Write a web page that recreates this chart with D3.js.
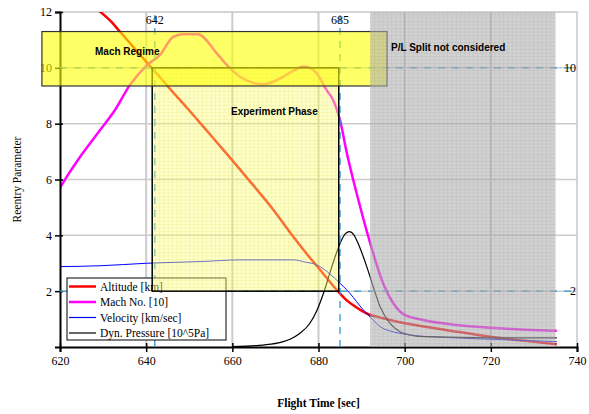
<!DOCTYPE html>
<html>
<head>
<meta charset="utf-8">
<script src="https://cdn.jsdelivr.net/npm/d3@7"></script>
<style>
	body { margin: 0; background: #fff; }
	svg text { font-family: "Liberation Serif", "Times New Roman", serif; }
	.box-label { font-family: "Liberation Sans", Arial, sans-serif !important; font-weight: bold; font-size: 10px; }
</style>
</head>
<body>
<div id="chart"></div>
<script>
// Series: [flight time (sec), value]
const altitude = [[629, 12.05], [631.6, 11.7], [633.9, 11.3], [637, 10.75], [640.1, 10.2], [643, 9.7], [645.5, 9.25],
	[649.4, 8.58], [652, 8.12], [654.8, 7.62], [657.9, 7.06], [660.2, 6.65], [664, 5.95], [669.5, 4.92], [673.4, 4.1],
	[677.3, 3.33], [680.4, 2.76], [684.6, 1.98], [686.5, 1.68], [688.5, 1.45], [691.2, 1.2],
	[695, 1.03], [700, 0.85], [706, 0.7], [712, 0.55], [719.8, 0.37], [728, 0.22], [735.3, 0.1]];
const mach = [[620, 5.7], [622, 6.2], [624.6, 6.8], [627, 7.3], [629.3, 7.77], [632.8, 8.5], [636.2, 9.38], [640.2, 10.1],
	[643.2, 10.46], [646.2, 11.1], [648.5, 11.2], [652, 11.2], [656.4, 10.52], [659, 10.05], [661.8, 9.68], [664.5, 9.48],
	[667.2, 9.41], [669.5, 9.5], [671.8, 9.68], [674, 9.88], [676.5, 10.04], [678, 10.0], [679.6, 9.8], [681.9, 9.2],
	[683.4, 8.85], [685, 8.13], [686.5, 7.0], [689.2, 5.3], [692, 3.72], [695, 2.28], [697.4, 1.56], [700, 1.15],
	[704.3, 0.97], [712, 0.79], [719.8, 0.69], [728, 0.62], [735.3, 0.58]];
const velocity = [[620, 2.88], [629.3, 2.91], [640.1, 3.0], [652.5, 3.06], [662, 3.12], [674.2, 3.12], [677, 3.04],
	[679.6, 2.94], [682, 2.7], [684.2, 2.4], [687.3, 1.92], [690.4, 1.33], [692.5, 1.0], [694.3, 0.73],
	[696.5, 0.58], [698.9, 0.49], [703, 0.4], [708.2, 0.35], [719.8, 0.28], [735.3, 0.19]];
const dynPressure = [[660, 0.01], [665.6, 0.05], [669, 0.1], [672, 0.2], [673.4, 0.28], [675.7, 0.49], [678, 0.85],
	[679.6, 1.3], [681.1, 1.9], [683.1, 2.88], [685, 3.71], [686.2, 4.05], [687.2, 4.13], [688.2, 4.02], [689.2, 3.71],
	[691.2, 2.88], [692.7, 2.16], [694.3, 1.44], [696.6, 0.85], [698.9, 0.55], [701.2, 0.43], [704.3, 0.37],
	[719.8, 0.33], [735.3, 0.33]];

const xTicks = [620, 640, 660, 680, 700, 720, 740];
const yTicks = [2, 4, 6, 8, 10, 12];
const xGrid = [640, 660, 680, 700, 720];
const yGrid = [2, 4, 6, 8, 10];

// Markers and regions (data units)
const timeMarkers = [642, 685];
const valueMarkers = [10, 2];
const machRegime = { t0: 615.8, t1: 695.9, v0: 9.35, v1: 11.3, label: "Mach Regime" };
const experimentPhase = { t0: 641.4, t1: 684.7, v0: 2, v1: 10, label: "Experiment Phase" };
const plSplit = { t0: 692, t1: 735, label: "P/L Split not considered" };

const series = [
	{ name: "Altitude [km]", data: altitude, color: "#ff0000", width: 2.5 },
	{ name: "Mach No. [10]", data: mach, color: "#ff00ff", width: 2.5 },
	{ name: "Velocity [km/sec]", data: velocity, color: "#0000ff", width: 1 },
	{ name: "Dyn. Pressure [10^5Pa]", data: dynPressure, color: "#000000", width: 1.2 }
];

const W = 589, H = 414;
const margin = { top: 12, right: 12, bottom: 67, left: 60 };

const svg = d3.select("#chart").append("svg")
	.attr("width", W)
	.attr("height", H);

const x = d3.scaleLinear().domain([620, 740]).range([margin.left, W - margin.right]);
const y = d3.scaleLinear().domain([0, 12]).range([H - margin.bottom, margin.top]);

// Patterns for the shaded regions
const defs = svg.append("defs");
const grayPat = defs.append("pattern").attr("id", "grayGrid")
	.attr("patternUnits", "userSpaceOnUse").attr("width", 4.3).attr("height", 3.5);
grayPat.append("rect").attr("width", 4.3).attr("height", 3.5).attr("fill", "#b4b4b4");
grayPat.append("path").attr("d", "M0,0.5H4.3M0.5,0V3.5").attr("stroke", "#9c9c9c").attr("stroke-width", 0.8);

const yellowPat = defs.append("pattern").attr("id", "yellowGrid")
	.attr("patternUnits", "userSpaceOnUse").attr("width", 4.3).attr("height", 3.5);
yellowPat.append("rect").attr("width", 4.3).attr("height", 3.5).attr("fill", "#ffff88");
yellowPat.append("path").attr("d", "M0,0.5H4.3M0.5,0V3.5").attr("stroke", "#e6e640").attr("stroke-width", 0.8);

defs.append("clipPath").attr("id", "plotClip").append("rect")
	.attr("x", x(620)).attr("y", y(12)).attr("width", x(740) - x(620)).attr("height", y(0) - y(12));

// Gridlines
svg.append("g").selectAll("line").data(xGrid).enter().append("line")
	.attr("x1", d => x(d)).attr("x2", d => x(d))
	.attr("y1", y(12)).attr("y2", y(0))
	.attr("stroke", "#cccccc").attr("stroke-width", 2);
svg.append("g").selectAll("line").data(yGrid).enter().append("line")
	.attr("x1", x(620)).attr("x2", x(740))
	.attr("y1", d => y(d)).attr("y2", d => y(d))
	.attr("stroke", "#cccccc").attr("stroke-width", 1.5);

// Top and right frame
svg.append("path")
	.attr("d", `M${x(620)},${y(12)}H${x(740)}V${y(0)}`)
	.attr("fill", "none").attr("stroke", "#c8c8c8").attr("stroke-width", 1.5);

// Curves
const line = d3.line()
	.x(d => x(d[0]))
	.y(d => y(d[1]))
	.curve(d3.curveMonotoneX);

svg.append("g").attr("clip-path", "url(#plotClip)")
	.selectAll("path").data(series).enter().append("path")
	.attr("d", d => line(d.data))
	.attr("fill", "none")
	.attr("stroke", d => d.color)
	.attr("stroke-width", d => d.width)
	.attr("stroke-linejoin", "round");

// Axes
const xAxis = svg.append("g")
	.attr("transform", `translate(0,${y(0)})`)
	.call(d3.axisBottom(x).tickValues(xTicks).tickSize(5).tickFormat(d3.format("d")));
const yAxis = svg.append("g")
	.attr("transform", `translate(${x(620)},0)`)
	.call(d3.axisLeft(y).tickValues(yTicks).tickSize(5).tickFormat(d3.format("d")));

[xAxis, yAxis].forEach(ax => {
	ax.select(".domain").attr("stroke", "#000").attr("stroke-width", 2);
	ax.selectAll(".tick line").attr("stroke", "#000").attr("stroke-width", 1.5);
	ax.selectAll(".tick text")
		.attr("font-family", "'Liberation Serif', 'Times New Roman', serif")
		.attr("font-size", 12)
		.attr("fill", "#000");
});
xAxis.selectAll(".tick line").attr("y1", -4);
xAxis.selectAll(".tick text").attr("dy", "0.85em");
yAxis.selectAll(".tick line").attr("x1", 3);
yAxis.selectAll(".tick text").attr("x", -8);

// Axis titles
svg.append("text")
	.attr("transform", `translate(21,${(y(0) + y(12)) / 2}) rotate(-90)`)
	.attr("text-anchor", "middle")
	.attr("font-size", 11.5)
	.text("Reentry Parameter");
svg.append("text")
	.attr("x", (x(620) + x(740)) / 2)
	.attr("y", 407)
	.attr("text-anchor", "middle")
	.attr("font-size", 11.5)
	.attr("font-weight", "bold")
	.text("Flight Time [sec]");

// Dashed marker lines
const markerColor = "#3399cc";
svg.append("g").selectAll("line").data(timeMarkers).enter().append("line")
	.attr("x1", d => x(d)).attr("x2", d => x(d))
	.attr("y1", 15).attr("y2", y(0))
	.attr("stroke", markerColor).attr("stroke-width", 1.3)
	.attr("stroke-dasharray", "7,6");
svg.append("g").selectAll("line").data(valueMarkers).enter().append("line")
	.attr("x1", x(620)).attr("x2", x(740))
	.attr("y1", d => y(d)).attr("y2", d => y(d))
	.attr("stroke", markerColor).attr("stroke-width", 1.3)
	.attr("stroke-dasharray", "7,7");

// Legend
const legend = svg.append("g").attr("transform", "translate(67,278)");
legend.append("rect")
	.attr("width", 159).attr("height", 62)
	.attr("fill", "#fff").attr("stroke", "#000").attr("stroke-width", 1);
const item = legend.selectAll("g.item").data(series).enter().append("g")
	.attr("class", "item")
	.attr("transform", (d, i) => `translate(0,${8.5 + i * 15.5})`);
item.append("line")
	.attr("x1", 2).attr("x2", 29)
	.attr("stroke", d => d.color)
	.attr("stroke-width", d => d.width === 2.5 ? 2.5 : 1.2);
item.append("text")
	.attr("x", 33).attr("dy", "0.35em")
	.attr("font-size", 11.5)
	.text(d => d.name);

// Experiment phase box
svg.append("rect")
	.attr("x", x(experimentPhase.t0)).attr("y", y(experimentPhase.v1))
	.attr("width", x(experimentPhase.t1) - x(experimentPhase.t0))
	.attr("height", y(experimentPhase.v0) - y(experimentPhase.v1))
	.attr("fill", "url(#yellowGrid)").attr("fill-opacity", 0.45)
	.attr("stroke", "#000").attr("stroke-width", 1.5);

// Mach regime box
svg.append("rect")
	.attr("x", x(machRegime.t0)).attr("y", y(machRegime.v1))
	.attr("width", x(machRegime.t1) - x(machRegime.t0))
	.attr("height", y(machRegime.v0) - y(machRegime.v1))
	.attr("fill", "#ffff00").attr("fill-opacity", 0.6)
	.attr("stroke", "#333").attr("stroke-width", 1.2);

// P/L split region
svg.append("rect")
	.attr("x", x(plSplit.t0)).attr("y", y(12))
	.attr("width", x(plSplit.t1) - x(plSplit.t0))
	.attr("height", y(0) - y(12))
	.attr("fill", "url(#grayGrid)").attr("fill-opacity", 0.6);

// Region labels
svg.append("text").attr("class", "box-label")
	.attr("x", 95).attr("y", 55).text(machRegime.label);
svg.append("text").attr("class", "box-label")
	.attr("x", 231).attr("y", 115).text(experimentPhase.label);
svg.append("text").attr("class", "box-label")
	.attr("x", 391).attr("y", 51).text(plSplit.label);

// Marker value labels
svg.append("g").selectAll("text").data(timeMarkers).enter().append("text")
	.attr("x", d => x(d)).attr("y", 24)
	.attr("text-anchor", "middle").attr("font-size", 12)
	.text(d => d);
svg.append("g").selectAll("text").data(valueMarkers).enter().append("text")
	.attr("x", d => d >= 10 ? 570 : 573).attr("y", d => y(d) + 4)
	.attr("text-anchor", "middle").attr("font-size", 12)
	.text(d => d);
</script>
</body>
</html>
